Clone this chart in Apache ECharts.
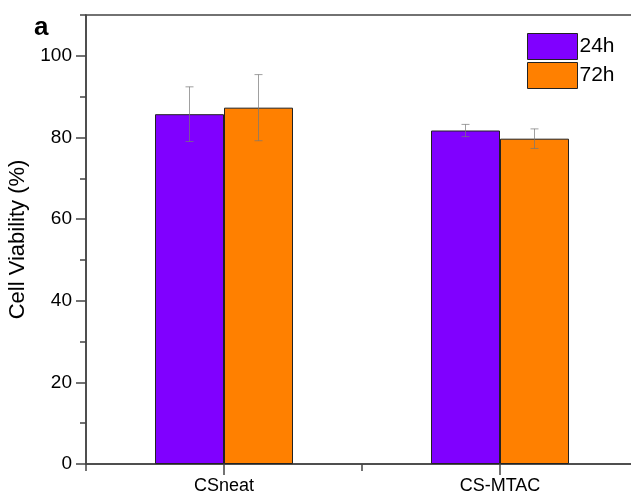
<!DOCTYPE html>
<html>
<head>
<meta charset="utf-8">
<script src="https://cdn.jsdelivr.net/npm/echarts@6/dist/echarts.min.js"></script>
<style>
  html, body { margin: 0; padding: 0; background: #fff; }
  #chart { width: 631px; height: 498px; }
</style>
</head>
<body>
<div id="chart"></div>
<script>
// Sample groups and incubation times
const categories = ['CSneat', 'CS-MTAC'];
const seriesNames = ['24h', '72h'];

// Mean cell viability (%) and standard deviation per group
const viability24h = [85.7, 81.7];
const error24h = [6.7, 1.5];
const viability72h = [87.3, 79.7];
const error72h = [8.1, 2.4];

// Y axis labelled ticks and unlabelled minor ticks
const majorTicks = [0, 20, 40, 60, 80, 100];
const minorTicks = [10, 30, 50, 70, 90, 110];

const colors = ['#8000FF', '#FF8000'];
const axisColor = '#444';
const font = 'Liberation Sans, Arial, Helvetica, sans-serif';

// Error bar renderer; offset is the fraction of the category band from its centre
function errorBars(offset) {
  return function (params, api) {
    const idx = api.value(0);
    const mean = api.value(1);
    const err = api.value(2);
    const band = api.size([1, 0])[0];
    const x = api.coord([idx, mean])[0] + offset * band;
    const yTop = api.coord([idx, mean + err])[1];
    const yBot = api.coord([idx, mean - err])[1];
    const cap = 4;
    const style = { stroke: 'rgba(120,120,120,0.7)', lineWidth: 1 };
    return {
      type: 'group',
      children: [
        { type: 'line', shape: { x1: x, y1: yTop, x2: x, y2: yBot }, style },
        { type: 'line', shape: { x1: x - cap, y1: yTop, x2: x + cap, y2: yTop }, style },
        { type: 'line', shape: { x1: x - cap, y1: yBot, x2: x + cap, y2: yBot }, style }
      ]
    };
  };
}

const chart = echarts.init(document.getElementById('chart'), null, { renderer: 'canvas' });

chart.setOption({
  animation: false,
  backgroundColor: '#fff',
  textStyle: { fontFamily: font },
  title: {
    text: 'a',
    left: 29,
    top: 10,
    textStyle: { fontSize: 26, fontWeight: 'bold', color: '#000', fontFamily: font }
  },
  legend: {
    data: seriesNames,
    orient: 'vertical',
    left: 522,
    top: 28,
    itemWidth: 50,
    itemHeight: 26,
    itemGap: 2,
    icon: 'rect',
    textStyle: { fontSize: 21, color: '#000', fontFamily: font, padding: [0, 0, 0, -3] },
    itemStyle: { borderColor: '#222', borderWidth: 1 }
  },
  // Framed plot area; it runs past the right edge of the canvas, so no right border shows
  grid: {
    left: 86,
    width: 552,
    top: 15,
    bottom: 34,
    containLabel: false,
    outerBoundsMode: 'none',
    show: true,
    borderColor: axisColor,
    borderWidth: 1.5
  },
  xAxis: [
    {
      // Category axis: labels and short ticks at the group boundaries
      type: 'category',
      data: categories,
      position: 'bottom',
      boundaryGap: true,
      axisLine: { show: true, lineStyle: { color: axisColor, width: 1.5 } },
      axisTick: { show: true, length: 7, lineStyle: { color: axisColor, width: 1.5 } },
      axisLabel: { show: true, fontSize: 18, color: '#000', margin: 13, fontFamily: font },
      splitLine: { show: false }
    }
  ],
  yAxis: [
    {
      type: 'value',
      min: 0,
      max: 110,
      interval: 10,
      name: 'Cell Viability (%)',
      nameLocation: 'middle',
      nameGap: 56,
      nameTextStyle: { fontSize: 22, color: '#000', fontFamily: font },
      axisLine: { show: true, lineStyle: { color: axisColor, width: 1.5 } },
      axisTick: { show: true, length: 10, customValues: majorTicks, lineStyle: { color: axisColor, width: 1.5 } },
      axisLabel: { show: true, fontSize: 19, color: '#000', margin: 14, customValues: majorTicks, fontFamily: font },
      splitLine: { show: false }
    },
    {
      type: 'value',
      min: 0,
      max: 110,
      interval: 10,
      position: 'left',
      axisLine: { show: false },
      axisTick: { show: true, length: 6, customValues: minorTicks, lineStyle: { color: axisColor, width: 1.5 } },
      axisLabel: { show: false },
      splitLine: { show: false }
    }
  ],
  series: [
    {
      name: '24h',
      type: 'bar',
      data: viability24h,
      barGap: '0%',
      barCategoryGap: '50%',
      itemStyle: { color: colors[0], borderColor: '#222', borderWidth: 1 }
    },
    {
      name: '72h',
      type: 'bar',
      data: viability72h,
      barGap: '0%',
      barCategoryGap: '50%',
      itemStyle: { color: colors[1], borderColor: '#222', borderWidth: 1 }
    },
    {
      type: 'custom',
      renderItem: errorBars(-0.125),
      data: viability24h.map((v, i) => [i, v, error24h[i]]),
      z: 10,
      silent: true
    },
    {
      type: 'custom',
      renderItem: errorBars(0.125),
      data: viability72h.map((v, i) => [i, v, error72h[i]]),
      z: 10,
      silent: true
    }
  ]
});

// Long tick marks below the axis under each group centre, placed through the axis scales
const xPix = categories.map((c, i) => chart.convertToPixel({ xAxisIndex: 0 }, i));
const yZero = chart.convertToPixel({ yAxisIndex: 0 }, 0);
const centreTicks = xPix
  .filter((x) => Number.isFinite(x) && Number.isFinite(yZero))
  .map((x) => ({
    type: 'line',
    silent: true,
    z: 100,
    shape: { x1: x, y1: yZero, x2: x, y2: yZero + 11 },
    style: { stroke: axisColor, lineWidth: 1.5 }
  }));
chart.setOption({ graphic: centreTicks });
</script>
</body>
</html>
